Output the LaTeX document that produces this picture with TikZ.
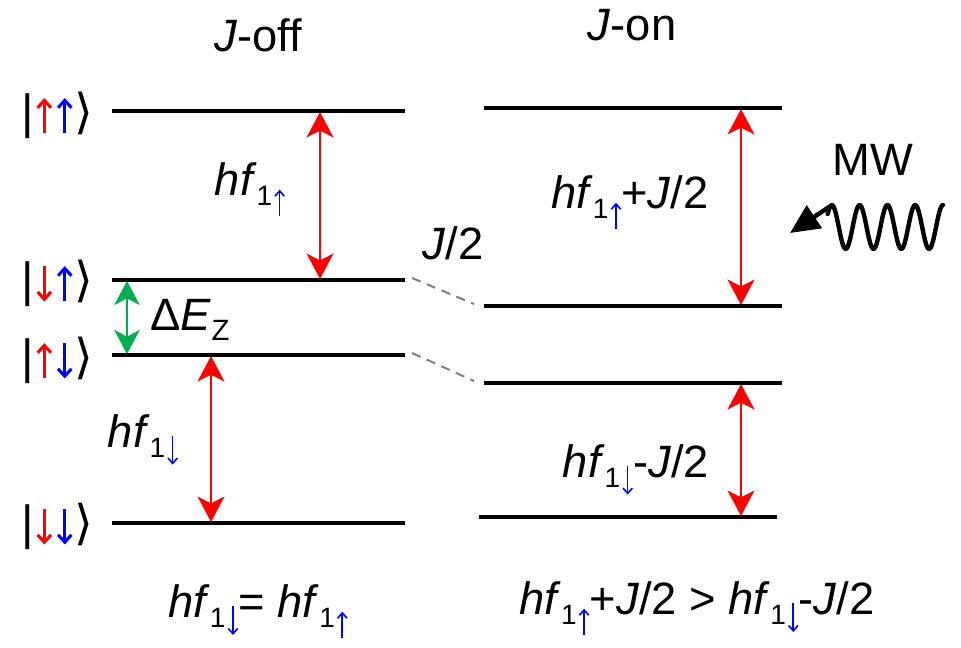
\documentclass[tikz,border=0pt]{standalone}
\usepackage{fontspec}
\setmainfont{Liberation Sans}
\newfontfamily\dv{DejaVu Sans}
\usetikzlibrary{arrows.meta}
\definecolor{zgreen}{RGB}{0,176,80}
% small blue subscript arrows
\newcommand\sarrowu{\tikz[baseline=0pt]\draw[blue,line width=1.2pt,-{Straight Barb[length=4pt,width=7pt]}] (0,-15.5pt)--(0,4.5pt);}
\newcommand\sarrowd{\tikz[baseline=0pt]\draw[blue,line width=1.2pt,-{Straight Barb[length=4pt,width=7pt]}] (0,8.5pt)--(0,-13pt);}
\newcommand\subar[1]{\raisebox{-7.5pt}{\fontsize{21}{21}\selectfont 1}\hspace{1.5pt}#1}
\newcommand\hfu{\textit{hf}\subar{\sarrowu}}
\newcommand\hfd{\textit{hf}\subar{\sarrowd}}
% ket arrows
\newcommand\karu[1]{\tikz[baseline=0pt]\draw[#1,line width=2.3pt,-{Straight Barb[length=5.5pt,width=10pt]}] (0,-4pt)--(0,22.5pt);}
\newcommand\kard[1]{\tikz[baseline=0pt]\draw[#1,line width=2.3pt,-{Straight Barb[length=5.5pt,width=10pt]}] (0,22.5pt)--(0,-4pt);}
\newcommand\ket[2]{|\hspace{2pt}#1\hspace{3pt}#2\hspace{1pt}{\dv ⟩}}
\begin{document}
\begin{tikzpicture}[x=0.75pt,y=-0.75pt,
  level/.style={line width=2.3pt},
  dashlink/.style={gray,line width=1.5pt,dash pattern=on 7pt off 5pt},
  tip/.style={Stealth[length=19pt,width=20pt,inset=5pt]},
  trans/.style={red,line width=2.2pt,{Stealth[length=19pt,width=20pt,inset=5pt]}-{Stealth[length=19pt,width=20pt,inset=5pt]}},
  zee/.style={zgreen,line width=2.2pt,{Stealth[length=18pt,width=19pt,inset=5pt]}-{Stealth[length=18pt,width=19pt,inset=5pt]}},
  lbl/.style={inner sep=0pt,font=\fontsize{34}{40}\selectfont},
  ketl/.style={inner sep=0pt,font=\fontsize{36}{40}\selectfont}]
\useasboundingbox (0,0) rectangle (961,648);
% J-off levels
\coordinate (a1) at (112,111); \coordinate (a2) at (405,111);
\coordinate (b1) at (112,280); \coordinate (b2) at (405,280);
\coordinate (c1) at (112,355); \coordinate (c2) at (405,355);
\coordinate (d1) at (112,523); \coordinate (d2) at (405,523);
\draw[level] (a1) -- (a2);
\draw[level] (b1) -- (b2);
\draw[level] (c1) -- (c2);
\draw[level] (d1) -- (d2);
% J-on levels
\coordinate (e1) at (484,108); \coordinate (e2) at (782,108);
\coordinate (f1) at (484,306); \coordinate (f2) at (782,306);
\coordinate (g1) at (484,383); \coordinate (g2) at (782,383);
\coordinate (h1) at (479,517); \coordinate (h2) at (777,517);
\draw[level] (e1) -- (e2);
\draw[level] (f1) -- (f2);
\draw[level] (g1) -- (g2);
\draw[level] (h1) -- (h2);
% dashed links
\coordinate (l1) at (412,278); \coordinate (l2) at (474,304);
\coordinate (m1) at (412,353); \coordinate (m2) at (474,381);
\draw[dashlink] (l1) -- (l2);
\draw[dashlink] (m1) -- (m2);
% transitions
\coordinate (t1a) at (320,112); \coordinate (t1b) at (320,279);
\coordinate (t2a) at (211,356); \coordinate (t2b) at (211,522);
\coordinate (t3a) at (741,109); \coordinate (t3b) at (741,305);
\coordinate (t4a) at (741,384); \coordinate (t4b) at (741,516);
\coordinate (za) at (127,281); \coordinate (zb) at (127,354);
\draw[trans] (t1a) -- (t1b);
\draw[trans] (t2a) -- (t2b);
\draw[trans] (t3a) -- (t3b);
\draw[trans] (t4a) -- (t4b);
\draw[zee] (za) -- (zb);
% kets
\node[ketl] (k1) at (57,115) {\ket{\karu{red}}{\karu{blue}}};
\node[ketl] (k2) at (57,283) {\ket{\kard{red}}{\karu{blue}}};
\node[ketl] (k3) at (57,360) {\ket{\karu{red}}{\kard{blue}}};
\node[ketl] (k4) at (57,526) {\ket{\kard{red}}{\kard{blue}}};
% labels
\node[lbl] (joff) at (258,35) {\textit{J}-off};
\node[lbl] (jon) at (632,25) {\textit{J}-on};
\node[lbl] (l1u) at (250,190) {\hfu};
\node[lbl] (l1d) at (143,440) {\hfd};
\node[lbl] (dez) at (190,320) {Δ\textit{E}\raisebox{-7.5pt}{\fontsize{22}{22}\selectfont Z}};
\node[lbl] (j2) at (453,243) {\textit{J}/2};
\node[lbl] (r1) at (630,203) {\hfu+\textit{J}/2};
\node[lbl] (r2) at (636,470) {\hfd-\textit{J}/2};
\node[lbl] (mw) at (873,160) {MW};
\node[lbl] (b1t) at (258,612) {\hfd= \hfu};
\node[lbl] (b2t) at (697,609) {\hfu+\textit{J}/2 > \hfd-\textit{J}/2};
% microwave
\coordinate (wtip) at (790,233);
\coordinate (wend) at (829,207);
\draw[line width=3.3pt,line join=round,line cap=round] plot[domain=0:4.15,samples=120,smooth] ({943-27.8*\x},{227-22*cos(360*\x)});
\draw[line width=3.3pt,-{Triangle[length=22pt,width=20pt]}] (wend) -- (wtip);
\end{tikzpicture}
\end{document}
